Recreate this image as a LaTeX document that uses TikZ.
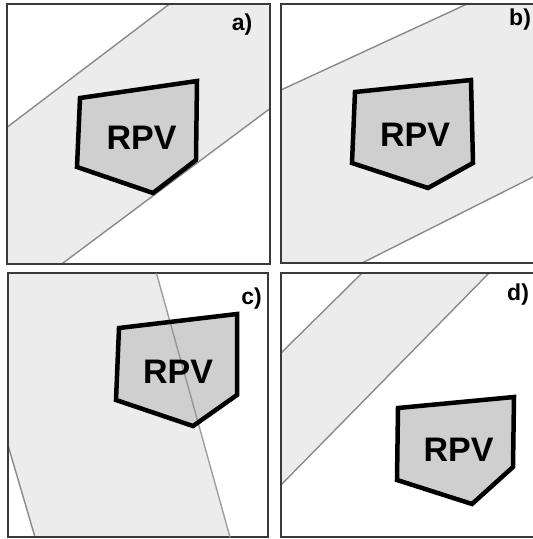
\documentclass[tikz,border=0pt]{standalone}
\usepackage{fontspec}
\setmainfont{Liberation Sans}
\definecolor{bandfill}{HTML}{ECECEC}
\definecolor{bandline}{HTML}{8A8A8A}
\definecolor{rpvfill}{HTML}{CFCFCF}
\definecolor{framecol}{HTML}{3A3A3A}
\tikzset{
  bandarea/.style={fill=bandfill},
  bandedge/.style={draw=bandline, line width=1.4pt},
  rpvshape/.style={draw=black, fill=rpvfill, line width=4.5pt, line join=miter},
  rpvtext/.style={font=\fontsize{34}{34}\selectfont\bfseries, inner sep=0pt},
  paneltag/.style={font=\fontsize{23}{23}\selectfont\bfseries, inner sep=0pt},
  panelframe/.style={draw=framecol, line width=1.6pt}
}
\begin{document}
\begin{tikzpicture}[x=1pt,y=-1pt]
\useasboundingbox[fill=white] (0,0) rectangle (533,539);
% ---- panel a ----
\begin{scope}
  \clip (7,4) rectangle (270,264);
  \fill[bandarea] (-100,208.5) -- (400,-171) -- (400,11.6) -- (-100,384.6) -- cycle;
  \draw[bandedge] (-100,208.5) -- (400,-171);
  \draw[bandedge] (400,11.6) -- (-100,384.6);
\end{scope}
\draw[panelframe] (7,4) rectangle (270,264);
\draw[rpvshape] (80,98) -- (197,81) -- (196,160) -- (153,193) -- (77,167) -- cycle;
\node[rpvtext] (rpva) at (141.5,137.5) {RPV};
\node[paneltag] (taga) at (242,25) {a)};
% ---- panel b ----
\begin{scope}
  \clip (281,4) rectangle (545,263);
  \fill[bandarea] (200,127.4) -- (700,-103.6) -- (700,93) -- (200,344.5) -- cycle;
  \draw[bandedge] (200,127.4) -- (700,-103.6);
  \draw[bandedge] (700,93) -- (200,344.5);
\end{scope}
\draw[panelframe] (281,4) rectangle (545,263);
\draw[rpvshape] (355,92) -- (471,80) -- (473,163) -- (428,188) -- (352,163) -- cycle;
\node[rpvtext] (rpvb) at (415,134.5) {RPV};
\node[paneltag, anchor=west] (tagb) at (509,20) {b)};
% ---- panel c ----
\begin{scope}
  \clip (8,273) rectangle (268,537);
  \fill[bandarea] (-93.5,100) -- (108.2,100) -- (275.4,700) -- (82.9,700) -- cycle;
  \draw[bandedge] (-93.5,100) -- (82.9,700);
\end{scope}
\draw[panelframe] (8,273) rectangle (268,537);
\fill[rpvfill] (119,328) -- (237,314) -- (237,395) -- (193,426) -- (116,400) -- cycle;
\begin{scope}
  \clip (8,273) rectangle (268,537);
  \draw[bandedge, draw opacity=0.8] (108.2,100) -- (275.4,700);
\end{scope}
\draw[rpvshape, fill=none] (119,328) -- (237,314) -- (237,395) -- (193,426) -- (116,400) -- cycle;
\node[rpvtext] (rpvc) at (178,371.5) {RPV};
\node[paneltag] (tagc) at (251.5,299) {c)};
% ---- panel d ----
\begin{scope}
  \clip (281,273) rectangle (545,537);
  \fill[bandarea] (200,433) -- (600,38.1) -- (600,160) -- (200,567.5) -- cycle;
  \draw[bandedge] (200,433) -- (600,38.1);
  \draw[bandedge] (600,160) -- (200,567.5);
\end{scope}
\draw[panelframe] (281,273) rectangle (545,537);
\draw[rpvshape] (398,408) -- (514,397) -- (513,467) -- (472,504) -- (397,480) -- cycle;
\node[rpvtext] (rpvd) at (458.5,449.5) {RPV};
\node[paneltag, anchor=west] (tagd) at (507,295) {d)};
\end{tikzpicture}
\end{document}
